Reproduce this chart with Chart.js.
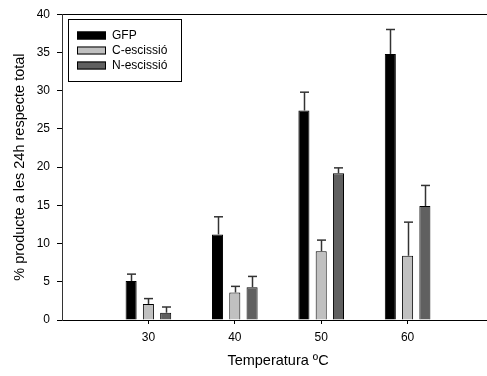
<!DOCTYPE html>
<html>
<head>
<meta charset="utf-8">
<script src="https://cdn.jsdelivr.net/npm/chart.js@4"></script>
<style>
  html, body { margin: 0; padding: 0; background: #fff; overflow: hidden; }
  #wrap { width: 487px; height: 376px; overflow: hidden; }
</style>
</head>
<body>
<div id="wrap"><canvas id="chart" width="494" height="376"></canvas></div>
<script>
// ---- data ----
const temperatures = [30, 40, 50, 60];
const seriesNames  = ['GFP', 'C-escissió', 'N-escissió'];
const gfpValues    = [5.1, 11.2, 27.4, 34.8];
const gfpErrors    = [0.9, 2.3, 2.4, 3.2];
const cValues      = [2.1, 3.6, 9.0, 8.4];
const cErrors      = [0.7, 0.8, 1.45, 4.4];
const nValues      = [0.95, 4.3, 19.2, 14.9];
const nErrors      = [0.75, 1.4, 0.7, 2.7];
const yTicksMax    = 40;

const FONT = 'Liberation Sans, Arial, Helvetica, sans-serif';
const fills = ['#000000', '#c0c0c0', '#606060'];

// error bars: only the upper half, with a cap
const errorBarsPlugin = {
  id: 'errorBars',
  afterDatasetsDraw(chart) {
    const ctx = chart.ctx;
    const y = chart.scales.y;
    ctx.save();
    chart.data.datasets.forEach((ds, di) => {
      const meta = chart.getDatasetMeta(di);
      meta.data.forEach((bar, i) => {
        const top = y.getPixelForValue(ds.data[i] + ds.errors[i]);
        const x = Math.round(bar.x) + 0.5;
        ctx.strokeStyle = '#333';
        ctx.lineWidth = 1.5;
        ctx.beginPath();
        ctx.moveTo(x, bar.y);
        ctx.lineTo(x, top);
        ctx.stroke();
        ctx.beginPath();
        ctx.moveTo(x - 4.5, top);
        ctx.lineTo(x + 4.5, top);
        ctx.stroke();
      });
    });
    ctx.restore();
  }
};

// boxed legend inside the plot, top-left
const boxLegendPlugin = {
  id: 'boxLegend',
  afterDraw(chart) {
    const ctx = chart.ctx;
    ctx.save();
    ctx.strokeStyle = '#000';
    ctx.lineWidth = 1;
    ctx.strokeRect(68.5, 19.5, 113, 62);
    ctx.font = '12px ' + FONT;
    ctx.textBaseline = 'middle';
    chart.data.datasets.forEach((ds, i) => {
      const cy = 35.5 + i * 15;
      ctx.fillStyle = ds.backgroundColor;
      ctx.fillRect(77, cy - 4, 29, 8);
      ctx.strokeRect(77.5, cy - 3.5, 28, 7);
      ctx.fillStyle = '#000';
      ctx.fillText(ds.label, 112, cy);
    });
    ctx.restore();
  }
};

const mkSet = (i, data, errors) => ({
  label: seriesNames[i],
  data,
  errors,
  backgroundColor: fills[i],
  borderColor: '#000',
  borderWidth: 1,
  borderSkipped: 'bottom',
  categoryPercentage: 0.6,
  barPercentage: 0.64,
});

new Chart(document.getElementById('chart'), {
  type: 'bar',
  data: {
    labels: temperatures,
    datasets: [
      mkSet(0, gfpValues, gfpErrors),
      mkSet(1, cValues, cErrors),
      mkSet(2, nValues, nErrors),
    ]
  },
  options: {
    responsive: false,
    animation: false,
    layout: { padding: { top: 10, left: 0, right: 0, bottom: 0 } },
    plugins: {
      legend: { display: false },
      tooltip: { enabled: false },
    },
    scales: {
      x: {
        type: 'linear',
        min: 20,
        max: 70,
        offset: false,
        afterBuildTicks: s => { s.ticks = temperatures.map(v => ({ value: v })); },
        afterFit: s => { s.height = 56; },
        ticks: { color: '#000', font: { family: FONT, size: 12 }, padding: 6, maxRotation: 0 },
        grid: { offset: false, drawOnChartArea: false, tickLength: 4, tickColor: '#000' },
        border: { color: '#000', width: 1 },
        title: {
          display: true,
          text: 'Temperatura ºC',
          color: '#000',
          font: { family: FONT, size: 14.5 },
          padding: 6,
        }
      },
      y: {
        min: 0,
        max: yTicksMax,
        afterFit: s => { s.width = 62; },
        ticks: { stepSize: 5, color: '#000', font: { family: FONT, size: 12 }, padding: 7 },
        grid: {
          color: c => c.tick && c.tick.value === yTicksMax ? '#000' : 'rgba(0,0,0,0)',
          tickColor: '#000',
          tickLength: 5,
        },
        border: { color: '#333', width: 1 },
        title: {
          display: true,
          text: '% producte a les 24h respecte total',
          color: '#000',
          font: { family: FONT, size: 14.5 },
          padding: 11,
        }
      }
    }
  },
  plugins: [errorBarsPlugin, boxLegendPlugin]
});
</script>
</body>
</html>
